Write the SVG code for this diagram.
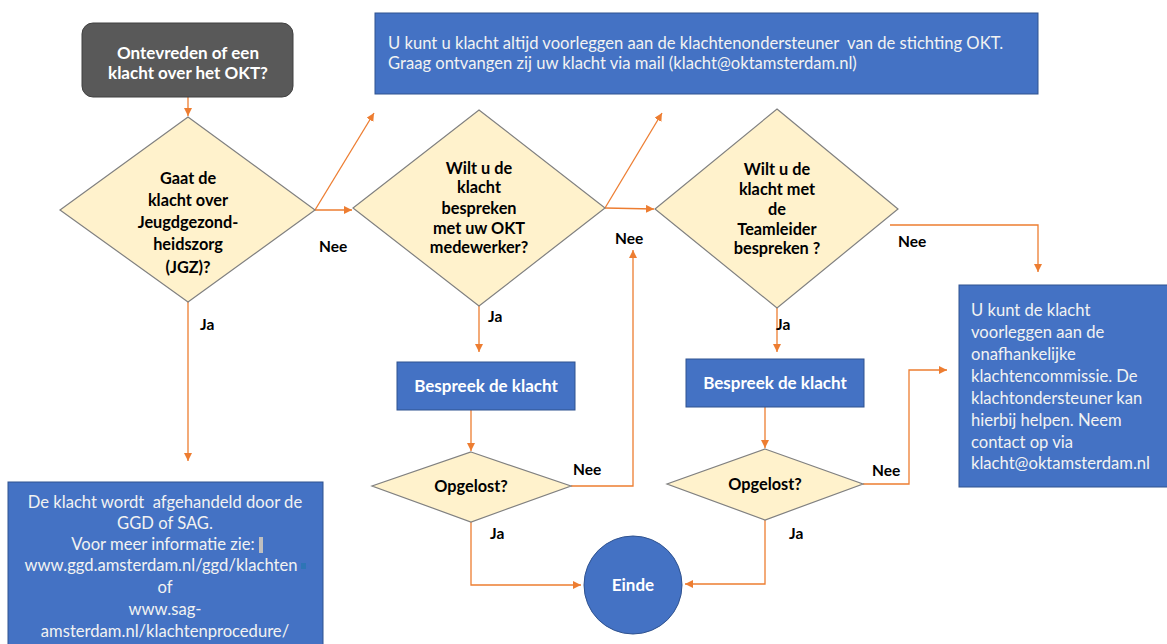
<svg xmlns="http://www.w3.org/2000/svg" width="1167" height="644" viewBox="0 0 1167 644">
<style>
.dia{fill:#FFF2CC;stroke:#808080;stroke-width:1.2}
.box{fill:#4472C4;stroke:#2F528F;stroke-width:1}
.bt{font-family:Lato,"Liberation Sans",sans-serif;font-weight:bold;font-size:16.3px;fill:#000;text-anchor:middle}
.wb{font-family:Lato,"Liberation Sans",sans-serif;font-weight:bold;font-size:17px;fill:#fff;text-anchor:middle}
.wt{font-family:Lato,"Liberation Sans",sans-serif;font-size:16.6px;fill:#F2F2F2}
.lbl{font-family:Lato,"Liberation Sans",sans-serif;font-weight:bold;font-size:15.5px;fill:#000}
.con{fill:none;stroke:#ED7D31;stroke-width:1.3;marker-end:url(#ah)}
</style>
<defs>
<marker id="ah" markerUnits="userSpaceOnUse" markerWidth="9" markerHeight="9" refX="8" refY="4" orient="auto">
<path d="M0,0 L8,4 L0,8 z" fill="#ED7D31"/>
</marker>
</defs>
<rect width="1167" height="644" fill="#fff"/>

<g id="connectors">
<path class="con" d="M188,97 L188,116"/>
<path class="con" d="M315,210 L374,113"/>
<path class="con" d="M315,210 L352,210"/>
<path class="con" d="M188,302 L188,461"/>
<path class="con" d="M605,208 L662,113"/>
<path class="con" d="M605,208 L654,209"/>
<path class="con" d="M479,306 L479,352"/>
<path class="con" d="M471,410 L471,451"/>
<path class="con" d="M571,486 L633,486 L633,250"/>
<path class="con" d="M471,522 L471,585 L581,585"/>
<path class="con" d="M890,225 L1038,225 L1038,272"/>
<path class="con" d="M777,308 L777,352"/>
<path class="con" d="M765,407 L765,448"/>
<path class="con" d="M863,484 L909,484 L909,370 L947,370"/>
<path class="con" d="M765,520 L765,584 L685,584"/>
</g>

<g id="labels">
<text class="lbl" x="319" y="252">Nee</text>
<text class="lbl" x="200" y="330">Ja</text>
<text class="lbl" x="615" y="244">Nee</text>
<text class="lbl" x="488" y="322">Ja</text>
<text class="lbl" x="898" y="247">Nee</text>
<text class="lbl" x="776" y="330">Ja</text>
<text class="lbl" x="573" y="475">Nee</text>
<text class="lbl" x="490" y="539">Ja</text>
<text class="lbl" x="872" y="476">Nee</text>
<text class="lbl" x="789" y="539">Ja</text>
</g>

<g id="start">
<rect x="82" y="23" width="211" height="74" rx="11" fill="#595959" stroke="#404040" stroke-width="1"/>
<text class="wb" x="188" y="59">Ontevreden of een</text>
<text class="wb" x="188" y="79">klacht over het OKT?</text>
</g>

<g id="d1">
<path class="dia" d="M188,117 L315,210 L188,302 L60,210 Z"/>
<text class="bt" x="188" y="184">Gaat de</text>
<text class="bt" x="188" y="206">klacht over</text>
<text class="bt" x="188" y="228">Jeugdgezond-</text>
<text class="bt" x="188" y="250">heidszorg</text>
<text class="bt" x="188" y="273">(JGZ)?</text>
</g>

<g id="info-top">
<rect class="box" x="375" y="13" width="663" height="81"/>
<text class="wt" x="388" y="49" xml:space="preserve">U kunt u klacht altijd voorleggen aan de klachtenondersteuner  van de stichting OKT.</text>
<text class="wt" x="388" y="69">Graag ontvangen zij uw klacht via mail (klacht@oktamsterdam.nl)</text>
</g>

<g id="d2">
<path class="dia" d="M479,110 L605,208 L479,306 L353,208 Z"/>
<text class="bt" x="479" y="174">Wilt u de</text>
<text class="bt" x="479" y="193">klacht</text>
<text class="bt" x="479" y="214">bespreken</text>
<text class="bt" x="479" y="234">met uw OKT</text>
<text class="bt" x="479" y="253">medewerker?</text>
</g>

<g id="d3">
<path class="dia" d="M777,109 L898,209 L777,308 L655,209 Z"/>
<text class="bt" x="777" y="175">Wilt u de</text>
<text class="bt" x="777" y="195">klacht met</text>
<text class="bt" x="777" y="215">de</text>
<text class="bt" x="777" y="235">Teamleider</text>
<text class="bt" x="777" y="254">bespreken ?</text>
</g>

<g id="info-right">
<rect class="box" x="959" y="285" width="212" height="202"/>
<text class="wt" x="971" y="316">U kunt de klacht</text>
<text class="wt" x="971" y="338">voorleggen aan de</text>
<text class="wt" x="971" y="360">onafhankelijke</text>
<text class="wt" x="971" y="382">klachtencommissie. De</text>
<text class="wt" x="971" y="404">klachtondersteuner kan</text>
<text class="wt" x="971" y="426">hierbij helpen. Neem</text>
<text class="wt" x="971" y="448">contact op via</text>
<text class="wt" x="971" y="469">klacht@oktamsterdam.nl</text>
</g>

<g id="bespreek1">
<rect class="box" x="397" y="362" width="178" height="48"/>
<text class="wb" x="486" y="392">Bespreek de klacht</text>
</g>

<g id="bespreek2">
<rect class="box" x="686" y="359" width="178" height="48"/>
<text class="wb" x="775" y="389">Bespreek de klacht</text>
</g>

<g id="opgelost1">
<path class="dia" d="M471,452 L571,486 L471,522 L372,486 Z"/>
<text class="bt" x="471" y="492">Opgelost?</text>
</g>

<g id="opgelost2">
<path class="dia" d="M765,449 L863,484 L765,520 L667,484 Z"/>
<text class="bt" x="765" y="490">Opgelost?</text>
</g>

<g id="einde">
<circle cx="633" cy="585" r="49" fill="#4472C4" stroke="#2F528F" stroke-width="1"/>
<text class="wb" x="633" y="591">Einde</text>
</g>

<g id="info-left">
<rect class="box" x="8" y="482" width="315" height="170"/>
<text class="wt" x="165" y="508" text-anchor="middle" xml:space="preserve">De klacht wordt  afgehandeld door de</text>
<text class="wt" x="165" y="529" text-anchor="middle">GGD of SAG.</text>
<text class="wt" x="163" y="550" text-anchor="middle">Voor meer informatie zie:</text>
<text class="wt" x="161" y="571" text-anchor="middle">www.ggd.amsterdam.nl/ggd/klachten</text>
<text class="wt" x="165" y="593" text-anchor="middle">of</text>
<text class="wt" x="165" y="615" text-anchor="middle">www.sag-</text>
<text class="wt" x="165" y="637" text-anchor="middle">amsterdam.nl/klachtenprocedure/</text>
<rect x="259" y="537" width="4" height="16" fill="#BFBFBF"/>
<rect x="301" y="563" width="5" height="6" fill="#2E75B6"/>
</g>
</svg>
